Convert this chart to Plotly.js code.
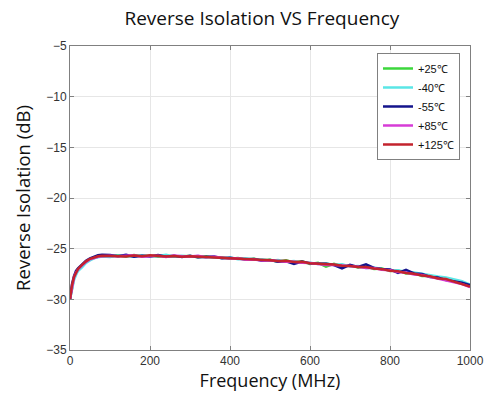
<!DOCTYPE html>
<html><head><meta charset="utf-8">
<script src="https://cdn.plot.ly/plotly-3.0.1.min.js"></script>
<style>html,body{margin:0;padding:0;background:#fff;}#chart{width:485px;height:394px;}</style>
</head><body><div id="chart"></div>
<script>
const freq = [0,5,10,15,20,30,40,50,60,70,80,
 100,120,140,160,180,200,220,240,260,280,
 300,320,340,360,380,400,420,440,460,480,
 500,520,540,560,580,600,620,640,660,680,
 700,720,740,760,780,800,820,840,860,880,
 900,920,940,960,980,1000];
const seriesNames = ['+25\u2103','-40\u2103','-55\u2103','+85\u2103','+125\u2103'];
const s25 = [-30.0,-28.8,-27.9,-27.4,-27.1,-26.7,-26.3,-26.05,-25.9,-25.8,-25.72,
 -25.78,-25.65,-25.8,-25.62,-25.75,-25.7,-25.8,-25.7,-25.78,-25.74,
 -25.72,-25.85,-25.75,-25.9,-25.85,-26.0,-25.92,-26.08,-26.0,-26.15,
 -26.1,-26.28,-26.15,-26.35,-26.25,-26.5,-26.4,-26.78,-26.5,-26.7,
 -26.65,-26.85,-26.75,-27.0,-26.95,-27.2,-27.15,-27.45,-27.4,-27.7,
 -27.7,-27.9,-28.05,-28.15,-28.45,-28.7];
const sm40 = [-30.0,-29.0,-28.1,-27.6,-27.2,-26.85,-26.4,-26.15,-25.95,-25.85,-25.78,
 -25.82,-25.7,-25.72,-25.8,-25.65,-25.75,-25.72,-25.6,-25.78,-25.7,
 -25.8,-25.72,-25.88,-25.82,-25.95,-25.88,-26.05,-25.95,-26.1,-26.05,
 -26.2,-26.12,-26.3,-26.22,-26.4,-26.38,-26.5,-26.45,-26.6,-26.55,
 -26.75,-26.7,-26.9,-26.85,-27.0,-27.1,-27.12,-27.3,-27.35,-27.5,
 -27.6,-27.75,-27.85,-28.0,-28.2,-28.55];
const sm55 = [-30.0,-28.5,-27.7,-27.2,-26.95,-26.55,-26.2,-25.95,-25.8,-25.65,-25.6,
 -25.62,-25.75,-25.6,-25.8,-25.7,-25.78,-25.62,-25.8,-25.7,-25.82,
 -25.7,-25.85,-25.82,-25.78,-25.95,-25.9,-26.0,-26.05,-26.02,-26.2,
 -26.12,-26.3,-26.25,-26.5,-26.28,-26.45,-26.5,-26.48,-26.62,-26.95,
 -26.6,-26.8,-26.55,-26.9,-27.0,-27.05,-27.4,-27.1,-27.45,-27.5,
 -27.8,-27.85,-28.1,-28.2,-28.35,-28.6];
const s85 = [-30.0,-28.7,-27.85,-27.35,-27.05,-26.65,-26.3,-26.05,-25.9,-25.8,-25.75,
 -25.7,-25.76,-25.72,-25.66,-25.8,-25.72,-25.7,-25.82,-25.68,-25.75,
 -25.78,-25.7,-25.85,-25.8,-25.92,-25.98,-25.95,-26.1,-26.08,-26.18,
 -26.15,-26.25,-26.28,-26.3,-26.4,-26.42,-26.52,-26.6,-26.62,-26.7,
 -26.72,-26.78,-26.9,-26.92,-27.08,-27.12,-27.3,-27.35,-27.55,-27.6,
 -27.78,-27.92,-28.1,-28.3,-28.5,-28.8];
const s125 = [-30.0,-28.6,-27.8,-27.3,-27.0,-26.6,-26.25,-26.0,-25.85,-25.75,-25.7,
 -25.72,-25.7,-25.78,-25.68,-25.74,-25.66,-25.75,-25.78,-25.72,-25.8,
 -25.76,-25.8,-25.78,-25.86,-25.9,-25.95,-25.94,-26.02,-26.06,-26.12,
 -26.14,-26.22,-26.2,-26.32,-26.3,-26.44,-26.46,-26.55,-26.56,-26.68,
 -26.7,-26.8,-26.82,-26.96,-27.02,-27.18,-27.22,-27.4,-27.48,-27.66,
 -27.72,-27.95,-28.0,-28.25,-28.5,-28.75];
const allSeries = [s25, sm40, sm55, s85, s125];
const colors = ['rgb(60,215,60)','rgb(90,230,230)','rgb(20,20,140)','rgb(215,60,215)','rgb(195,35,45)'];

const traces = allSeries.map((ys,i)=>({
  x: freq, y: ys, name: seriesNames[i], type:'scatter', mode:'lines',
  line:{color:colors[i], width:2.5}
}));

const axisCommon = {
  showline:true, linecolor:'#808080', linewidth:1, mirror:'ticks',
  ticks:'inside', ticklen:4, tickcolor:'#808080',
  showgrid:true, gridcolor:'#e6e6e6', zeroline:false,
  tickfont:{family:'Liberation Sans, Arial, sans-serif', size:12, color:'#333'}
};
const layout = {
  width:485, height:394,
  margin:{l:70, r:15, t:46, b:44},
  paper_bgcolor:'#fff', plot_bgcolor:'#fff',
  title:{text:'Reverse Isolation VS Frequency', xref:'container', x:0.54, xanchor:'center', y:0.953, yanchor:'middle',
    font:{family:'Open Sans, sans-serif', size:19, color:'#111'}},
  xaxis: Object.assign({}, axisCommon, {range:[0,1000], dtick:200, tick0:0,
    title:{text:'Frequency (MHz)', standoff:3, font:{family:'Open Sans, sans-serif', size:18, color:'#111'}}}),
  yaxis: Object.assign({}, axisCommon, {range:[-35,-5], dtick:5, tick0:-35,
    title:{text:'Reverse Isolation (dB)', standoff:10, font:{family:'Open Sans, sans-serif', size:18.5, color:'#111'}}}),
  legend:{x:0.975, xanchor:'right', y:0.977, yanchor:'top', bgcolor:'#fff',
    bordercolor:'#808080', borderwidth:1, font:{family:'Liberation Sans, Arial, sans-serif', size:11, color:'#111'},
    tracegroupgap:0, itemwidth:30},
  showlegend:true
};
Plotly.newPlot('chart', traces, layout, {displayModeBar:false, staticPlot:true});
</script></body></html>
